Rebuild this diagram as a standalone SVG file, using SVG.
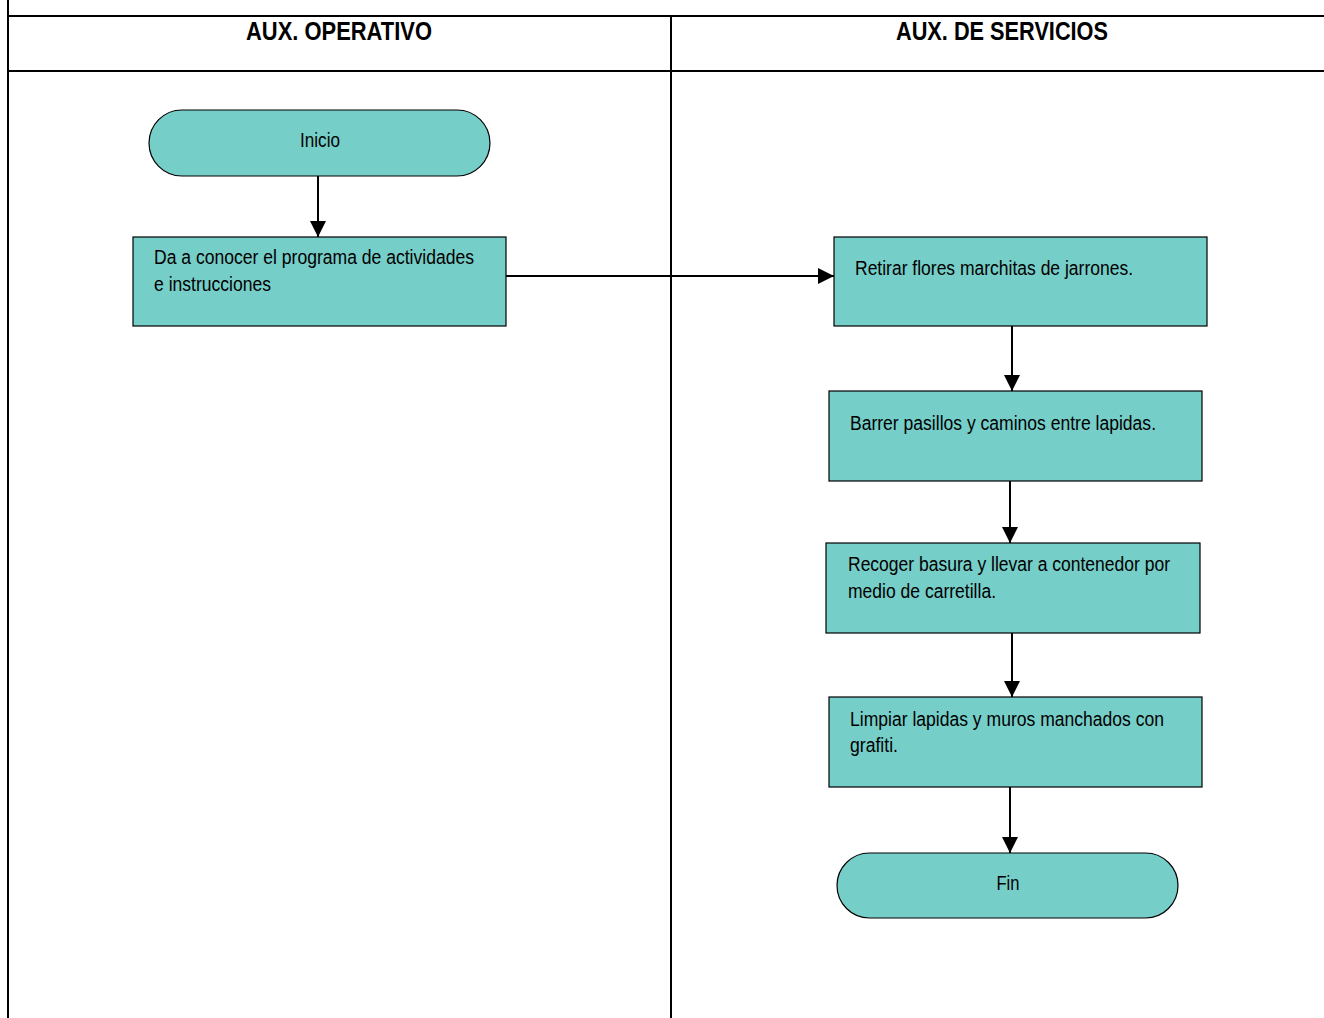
<svg xmlns="http://www.w3.org/2000/svg" width="1324" height="1018" viewBox="0 0 1324 1018">
<style>
.lane{stroke:#000;stroke-width:2;fill:none}
.node{fill:#76CEC8;stroke:#000;stroke-width:1.2}
.t{font-family:"Liberation Sans Narrow","Liberation Sans",Arial,sans-serif;font-size:20px;fill:#000}
.h{font-family:"Liberation Sans Narrow","Liberation Sans",Arial,sans-serif;font-size:25px;font-weight:bold;fill:#000}
.c{stroke:#000;stroke-width:2;fill:none;marker-end:url(#ah)}
</style>
<defs>
<marker id="ah" markerUnits="userSpaceOnUse" markerWidth="16" markerHeight="16" viewBox="0 0 16 16" refX="16" refY="8" orient="auto">
<path d="M0,0 L16,8 L0,16 Z" fill="#000"/>
</marker>
</defs>
<rect width="1324" height="1018" fill="#fff"/>
<g id="lanes">
<line class="lane" x1="8" y1="0" x2="8" y2="1018"/>
<line class="lane" x1="8" y1="16" x2="1324" y2="16"/>
<line class="lane" x1="8" y1="71" x2="1324" y2="71"/>
<line class="lane" x1="671" y1="16" x2="671" y2="1018"/>
<text class="h" x="339" y="40" text-anchor="middle" textLength="186" lengthAdjust="spacingAndGlyphs">AUX. OPERATIVO</text>
<text class="h" x="1002" y="40" text-anchor="middle" textLength="212" lengthAdjust="spacingAndGlyphs">AUX. DE SERVICIOS</text>
</g>
<g id="connectors">
<line class="c" x1="318" y1="176" x2="318" y2="237"/>
<line class="c" x1="506" y1="276" x2="834" y2="276"/>
<line class="c" x1="1012" y1="326" x2="1012" y2="391"/>
<line class="c" x1="1010" y1="481" x2="1010" y2="543"/>
<line class="c" x1="1012" y1="633" x2="1012" y2="697"/>
<line class="c" x1="1010" y1="787" x2="1010" y2="853"/>
</g>
<g id="inicio">
<rect class="node" x="149" y="110" width="341" height="66" rx="33" ry="33"/>
<text class="t" x="320" y="147" text-anchor="middle" textLength="40" lengthAdjust="spacingAndGlyphs">Inicio</text>
</g>
<g id="programa">
<rect class="node" x="133" y="237" width="373" height="89"/>
<text class="t" x="154" y="264" textLength="320" lengthAdjust="spacingAndGlyphs">Da a conocer el programa de actividades</text>
<text class="t" x="154" y="291" textLength="117" lengthAdjust="spacingAndGlyphs">e instrucciones</text>
</g>
<g id="retirar">
<rect class="node" x="834" y="237" width="373" height="89"/>
<text class="t" x="855" y="275" textLength="278" lengthAdjust="spacingAndGlyphs">Retirar flores marchitas de jarrones.</text>
</g>
<g id="barrer">
<rect class="node" x="829" y="391" width="373" height="90"/>
<text class="t" x="850" y="430" textLength="306" lengthAdjust="spacingAndGlyphs">Barrer pasillos y caminos entre lapidas.</text>
</g>
<g id="recoger">
<rect class="node" x="826" y="543" width="374" height="90"/>
<text class="t" x="848" y="571" textLength="322" lengthAdjust="spacingAndGlyphs">Recoger basura y llevar a contenedor por</text>
<text class="t" x="848" y="598" textLength="148" lengthAdjust="spacingAndGlyphs">medio de carretilla.</text>
</g>
<g id="limpiar">
<rect class="node" x="829" y="697" width="373" height="90"/>
<text class="t" x="850" y="726" textLength="314" lengthAdjust="spacingAndGlyphs">Limpiar lapidas y muros manchados con</text>
<text class="t" x="850" y="752" textLength="48" lengthAdjust="spacingAndGlyphs">grafiti.</text>
</g>
<g id="fin">
<rect class="node" x="837" y="853" width="341" height="65" rx="32.5" ry="32.5"/>
<text class="t" x="1008" y="890" text-anchor="middle" textLength="23" lengthAdjust="spacingAndGlyphs">Fin</text>
</g>
</svg>
